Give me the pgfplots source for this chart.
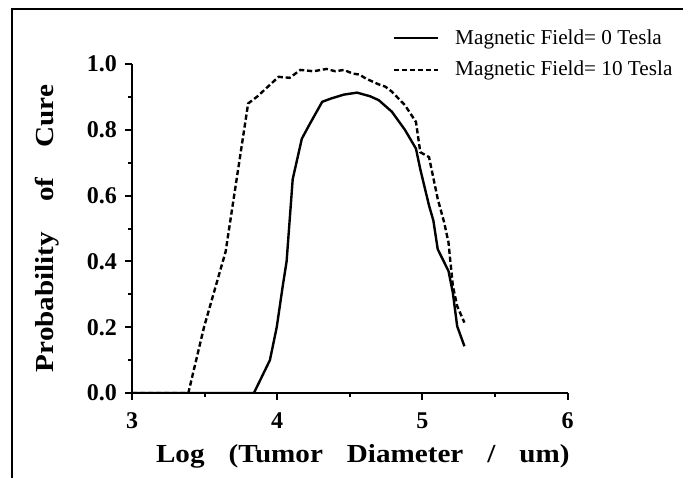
\documentclass[border=0pt]{standalone}
\usepackage{fontspec}
\setmainfont{Liberation Serif}
\newfontfamily\labelfont[FakeStretch=1.12]{Liberation Serif}
\usepackage{pgfplots}
\pgfplotsset{compat=1.18}
\begin{document}
\begin{tikzpicture}
\begin{axis}[
  at={(0,0)}, anchor=south west,
  scale only axis, width=217.75pt, height=164.5pt,
  xmin=3, xmax=6, ymin=0, ymax=1,
  axis lines*=left,
  axis line style={line width=1pt},
  xtick={3,4,5,6}, minor xtick={3.5,4.5,5.5},
  ytick={0,0.2,...,1.0}, minor ytick={0.1,0.3,0.5,0.7,0.9},
  tick align=outside,
  major tick length=3.5pt, minor tick length=2pt,
  tick style={line width=1pt, black},
  /pgf/number format/assume math mode=true,
  /pgf/number format/fixed, /pgf/number format/fixed zerofill,
  /pgf/number format/precision=1,
  xticklabel style={/pgf/number format/precision=0},
  ticklabel style={font=\bfseries\fontsize{12}{14}\selectfont},
  xticklabel style={yshift=-3pt},
  yticklabel style={xshift=-0.5pt},
  xlabel={\labelfont\bfseries\fontsize{13}{15}\selectfont Log\hspace{12pt}(Tumor\hspace{12pt}Diameter\hspace{12pt}/\hspace{12pt}um)},
  ylabel={\labelfont\bfseries\fontsize{13}{15}\selectfont Probability\hspace{15pt}of\hspace{15pt}Cure},
  xlabel style={at={(axis description cs:0.530,-0.1915)}, anchor=center},
  ylabel style={at={(axis description cs:-0.195,0.5)}, anchor=center},
  legend style={draw=none, fill=none, at={(axis description cs:0.598,1.03)}, anchor=west,
    font=\fontsize{10.6}{12}\selectfont, row sep=3pt, inner sep=0pt},
  legend cell align=left,
  legend image code/.code={\draw[#1] (0pt,0pt) -- (22pt,0pt); \path (28pt,0pt);},
]
\addplot[black, line width=1.2pt] coordinates {
(3.00,0) (3.84,0) (3.95,0.10) (3.997,0.20) (4.04,0.33) (4.065,0.40)
(4.107,0.65) (4.17,0.773) (4.22,0.814) (4.31,0.885) (4.37,0.895)
(4.46,0.907) (4.55,0.913) (4.64,0.902) (4.70,0.89) (4.79,0.855)
(4.88,0.80) (4.956,0.743) (4.986,0.68) (5.046,0.57) (5.076,0.524)
(5.106,0.437) (5.18,0.371) (5.21,0.305) (5.24,0.203) (5.29,0.142)
};
\addlegendentry{Magnetic Field= 0 Tesla}
\addplot[black, line width=1.2pt, dash pattern=on 2.6pt off 1.4pt] coordinates {
(3.00,0) (3.388,0) (3.496,0.20) (3.645,0.43) (3.80,0.88) (3.86,0.90)
(3.936,0.931) (4.01,0.961) (4.086,0.958) (4.16,0.982) (4.25,0.978)
(4.34,0.985) (4.40,0.978) (4.46,0.982) (4.52,0.971) (4.566,0.968)
(4.61,0.956) (4.70,0.938) (4.746,0.931) (4.79,0.916) (4.88,0.875)
(4.956,0.824) (4.986,0.732) (5.046,0.717) (5.106,0.59) (5.15,0.519)
(5.18,0.458) (5.21,0.326) (5.24,0.264) (5.29,0.214)
};
\addlegendentry{Magnetic Field= 10 Tesla}
\end{axis}
\draw[line width=1.2pt] (-60pt,-42.5pt) -- (-60pt,192pt) -- (275.5pt,192pt);
\pgfresetboundingbox
\useasboundingbox (-66pt,-42.5pt) rectangle (275.5pt,196.5pt);
\end{tikzpicture}
\end{document}
